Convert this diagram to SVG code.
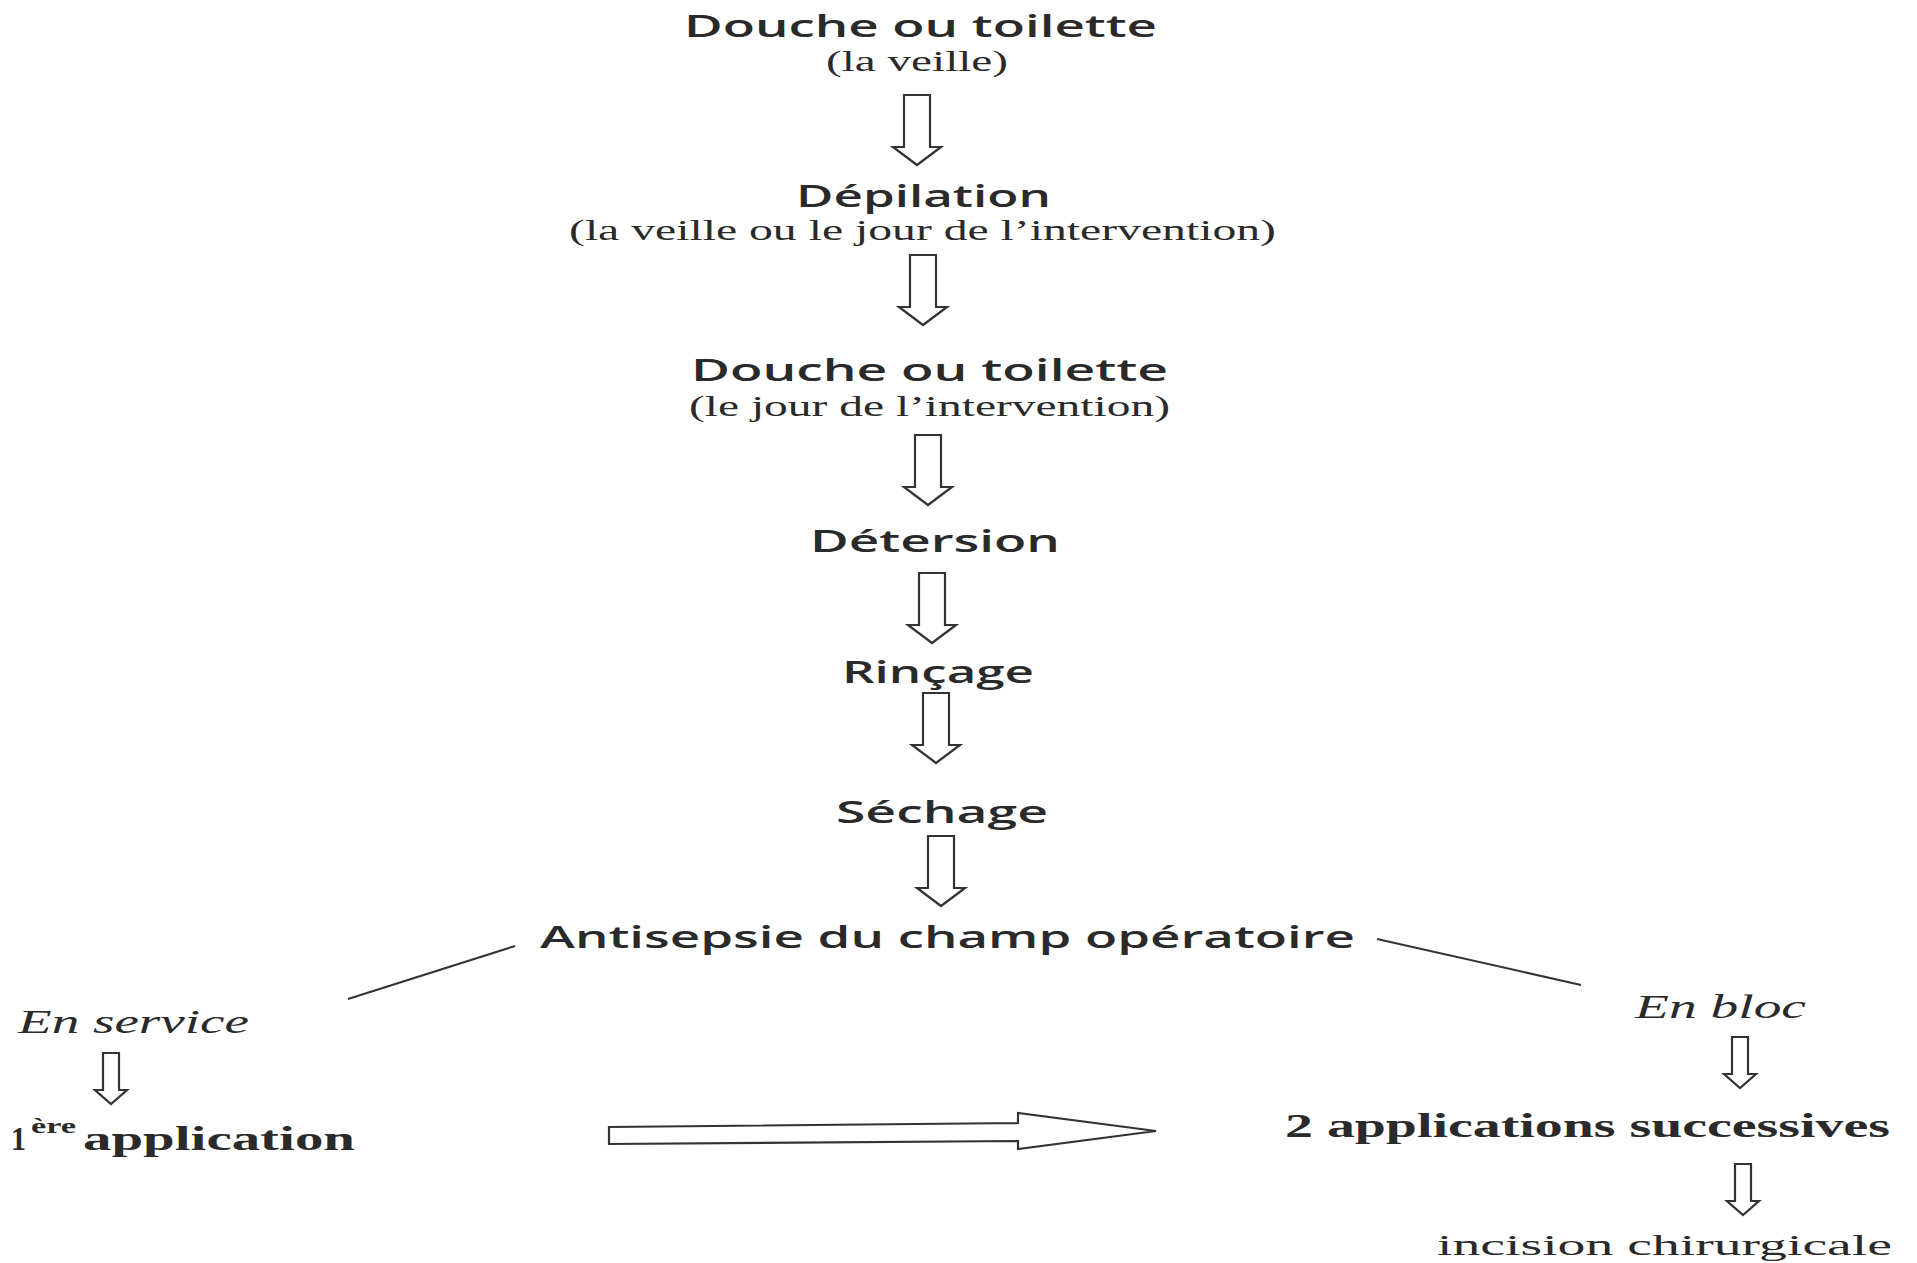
<svg xmlns="http://www.w3.org/2000/svg" xmlns:xlink="http://www.w3.org/1999/xlink" width="1917" height="1263" viewBox="0 0 1917 1263">
<style>
.c{font-family:"Open Sans","DejaVu Sans",sans-serif;font-size:31px;font-weight:600;fill:#2a2a2a}
.t{font-family:"Liberation Serif","Times New Roman",serif;font-size:29px;fill:#2a2a2a}
.ti{font-family:"Liberation Serif","Times New Roman",serif;font-size:33px;font-style:italic;fill:#2a2a2a}
.tb{font-family:"Liberation Serif","Times New Roman",serif;font-size:34px;font-weight:bold;fill:#2a2a2a}
.ar{fill:#ffffff;stroke:#333333;stroke-width:2.2;stroke-linejoin:miter}
.ln{fill:none;stroke:#333333;stroke-width:2}
</style>
<defs>
<path id="bigDown" d="M-13,0 L13,0 L13,52 L24,52 L0,70 L-24,52 L-13,52 Z"/>
<path id="smallDown" d="M-8,0 L8,0 L8,37 L16,37 L0,51 L-16,37 L-8,37 Z"/>
</defs>
<rect width="1917" height="1263" fill="#ffffff"/>

<g id="n1">
<text class="c" x="684" y="37" textLength="473" lengthAdjust="spacingAndGlyphs">Douche ou toilette</text>
<text class="t" x="826" y="71" textLength="182" lengthAdjust="spacingAndGlyphs">(la veille)</text>
</g>
<g id="n2">
<text class="c" x="796" y="207" textLength="255" lengthAdjust="spacingAndGlyphs">Dépilation</text>
<text class="t" x="569" y="240" textLength="707" lengthAdjust="spacingAndGlyphs">(la veille ou le jour de l’intervention)</text>
</g>
<g id="n3">
<text class="c" x="691" y="381" textLength="477" lengthAdjust="spacingAndGlyphs">Douche ou toilette</text>
<text class="t" x="689" y="416" textLength="481" lengthAdjust="spacingAndGlyphs">(le jour de l’intervention)</text>
</g>
<g id="n4">
<text class="c" x="810" y="552" textLength="250" lengthAdjust="spacingAndGlyphs">Détersion</text>
</g>
<g id="n5">
<text class="c" x="842" y="683" textLength="192" lengthAdjust="spacingAndGlyphs">Rinçage</text>
</g>
<g id="n6">
<text class="c" x="836" y="823" textLength="212" lengthAdjust="spacingAndGlyphs">Séchage</text>
</g>
<g id="n7">
<text class="c" x="540" y="948" textLength="815" lengthAdjust="spacingAndGlyphs">Antisepsie du champ opératoire</text>
</g>
<g id="n8">
<text class="ti" x="18" y="1033" textLength="231" lengthAdjust="spacingAndGlyphs">En service</text>
</g>
<g id="n9">
<text class="tb" y="1150"><tspan x="11" textLength="15" lengthAdjust="spacingAndGlyphs">1</tspan><tspan x="31" y="1133" font-size="21" textLength="45" lengthAdjust="spacingAndGlyphs">ère</tspan><tspan x="83" y="1150" textLength="272" lengthAdjust="spacingAndGlyphs">application</tspan></text>
</g>
<g id="n10">
<text class="ti" x="1635" y="1018" textLength="171" lengthAdjust="spacingAndGlyphs">En bloc</text>
</g>
<g id="n11">
<text class="tb" x="1285" y="1137" textLength="605" lengthAdjust="spacingAndGlyphs">2 applications successives</text>
</g>
<g id="n12">
<text class="t" x="1437" y="1255" font-size="37" textLength="455" lengthAdjust="spacingAndGlyphs">incision chirurgicale</text>
</g>

<g id="connectors">
<use xlink:href="#bigDown" class="ar" transform="translate(917,95)"/>
<use xlink:href="#bigDown" class="ar" transform="translate(923,255)"/>
<use xlink:href="#bigDown" class="ar" transform="translate(928,435)"/>
<use xlink:href="#bigDown" class="ar" transform="translate(932,573)"/>
<use xlink:href="#bigDown" class="ar" transform="translate(936,693)"/>
<use xlink:href="#bigDown" class="ar" transform="translate(941,836)"/>
<line class="ln" x1="348" y1="999" x2="515" y2="946"/>
<line class="ln" x1="1377" y1="939" x2="1581" y2="985"/>
<use xlink:href="#smallDown" class="ar" transform="translate(111,1053)"/>
<use xlink:href="#smallDown" class="ar" transform="translate(1740,1037)"/>
<use xlink:href="#smallDown" class="ar" transform="translate(1743,1164)"/>
<path class="ar" d="M609,1127 L1018,1123 L1018,1113 L1156,1131 L1018,1149 L1018,1141 L609,1144 Z"/>
</g>
</svg>
